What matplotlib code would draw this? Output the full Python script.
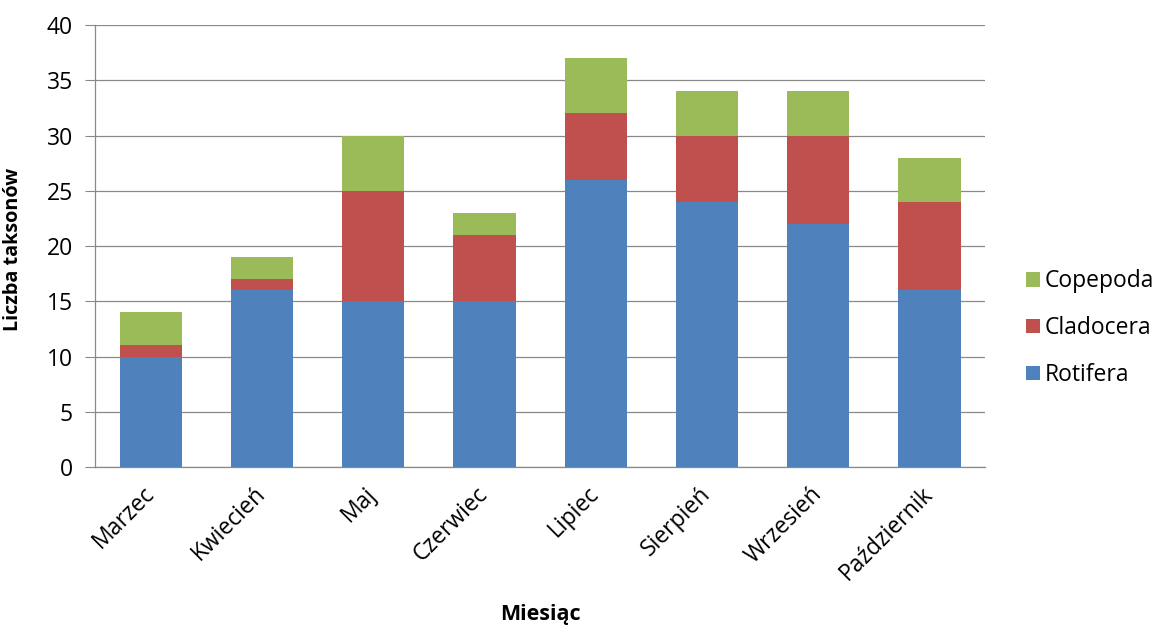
import matplotlib
matplotlib.use("Agg")
import matplotlib.pyplot as plt
import numpy as np

months = ["Marzec", "Kwiecień", "Maj", "Czerwiec", "Lipiec", "Sierpień", "Wrzesień", "Październik"]
rotifera = [10, 16, 15, 15, 26, 24, 22, 16]
cladocera = [1, 1, 10, 6, 6, 6, 8, 8]
copepoda = [3, 2, 5, 2, 5, 4, 4, 4]
y_ticks = [0, 5, 10, 15, 20, 25, 30, 35, 40]

plt.rcParams["font.family"] = ["Open Sans", "DejaVu Sans"]

fig = plt.figure(figsize=(11.59, 6.26), dpi=100)
ax = fig.add_axes([0.082, 0.254, 0.768, 0.706])

x = np.arange(len(months))
w = 0.56
rot = np.array(rotifera)
cla = np.array(cladocera)
cop = np.array(copepoda)

b1 = ax.bar(x, rot, w, color="#4F81BD", label="Rotifera", zorder=3)
b2 = ax.bar(x, cla, w, bottom=rot, color="#C0504D", label="Cladocera", zorder=3)
b3 = ax.bar(x, cop, w, bottom=rot + cla, color="#9BBB59", label="Copepoda", zorder=3)

ax.set_xlim(-0.5, len(months) - 0.5)
ax.set_ylim(0, 40)
ax.set_yticks(y_ticks)
ax.yaxis.grid(True, color="#898989", linewidth=0.9, zorder=0)
ax.set_axisbelow(True)

for s in ["top", "right"]:
    ax.spines[s].set_visible(False)
for s in ["left", "bottom"]:
    ax.spines[s].set_color("#898989")
    ax.spines[s].set_linewidth(0.9)

ax.tick_params(axis="y", length=7, color="#898989", labelsize=16.5, pad=9)
ax.tick_params(axis="x", length=0, labelsize=16.5, pad=17)
ax.set_xticks(x)
ax.set_xticklabels(months, rotation=45, ha="right", va="center", rotation_mode="anchor")

ax.set_ylabel("Liczba taksonów", fontsize=14.2, fontweight="bold", va="center")
ax.yaxis.set_label_coords(-0.092, 0.493)
ax.set_xlabel("Miesiąc", fontsize=15.5, fontweight="bold", va="center")
ax.xaxis.set_label_coords(0.5, -0.333)

handles = [b3, b2, b1]
ax.legend(handles, [h.get_label() for h in handles], loc="center left",
          bbox_to_anchor=(1.033, 0.314), frameon=False, fontsize=16.5, borderpad=0,
          handlelength=0.6, handleheight=0.6, handletextpad=0.2, labelspacing=1.0)

fig.savefig("out.png", dpi=100)
